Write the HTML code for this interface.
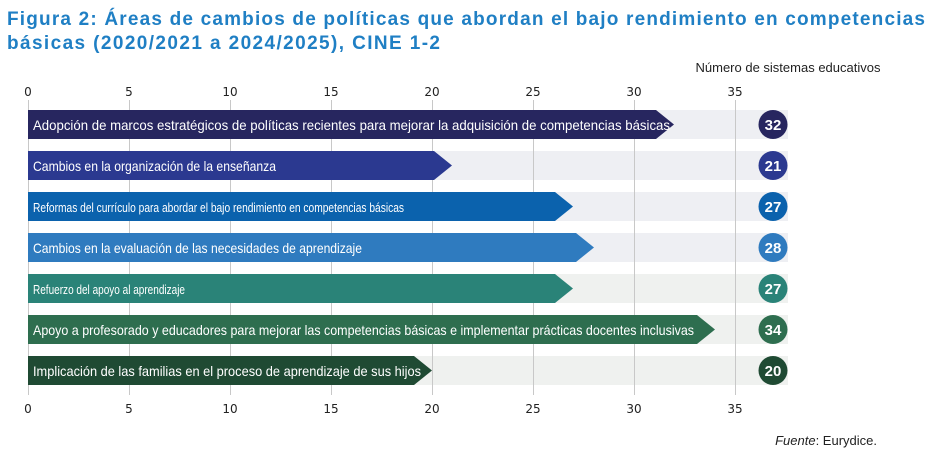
<!DOCTYPE html>
<html><head><meta charset="utf-8"><style>
body{margin:0;background:#fff;width:941px;height:460px;overflow:hidden;font-family:"Liberation Sans",sans-serif}
</style></head><body>
<svg width="941" height="460" style="position:absolute;left:0;top:0" font-family="Liberation Sans Narrow, Liberation Sans, sans-serif">
<g fill="#1f7fc4" font-weight="bold" font-size="19" font-family="Liberation Sans, sans-serif">
<text x="7" y="25" textLength="918" lengthAdjust="spacing">Figura 2: Áreas de cambios de políticas que abordan el bajo rendimiento en competencias</text>
<text x="7" y="49" textLength="433" lengthAdjust="spacing">básicas (2020/2021 a 2024/2025), CINE 1-2</text>
</g>
<g fill="#eeeff3">
<rect x="28" y="110" width="760" height="29"/><rect x="28" y="151" width="760" height="29"/><rect x="28" y="192" width="760" height="29"/><rect x="28" y="233" width="760" height="29"/>
</g>
<g fill="#eff1ef">
<rect x="28" y="274" width="760" height="29"/><rect x="28" y="315" width="760" height="29"/><rect x="28" y="356" width="760" height="29"/>
</g>
<g stroke="#c8c8c8" stroke-width="1">
<line x1="28.5" y1="100" x2="28.5" y2="395"/><line x1="129.5" y1="100" x2="129.5" y2="395"/><line x1="230.5" y1="100" x2="230.5" y2="395"/><line x1="331.5" y1="100" x2="331.5" y2="395"/><line x1="432.5" y1="100" x2="432.5" y2="395"/><line x1="533.5" y1="100" x2="533.5" y2="395"/><line x1="634.5" y1="100" x2="634.5" y2="395"/><line x1="735.5" y1="100" x2="735.5" y2="395"/>
</g>
<g font-size="12" fill="#222" text-anchor="middle" font-family="DejaVu Sans, sans-serif">
<text x="28" y="96">0</text><text x="129" y="96">5</text><text x="230" y="96">10</text><text x="331" y="96">15</text><text x="432" y="96">20</text><text x="533" y="96">25</text><text x="634" y="96">30</text><text x="735" y="96">35</text>
<text x="28" y="413">0</text><text x="129" y="413">5</text><text x="230" y="413">10</text><text x="331" y="413">15</text><text x="432" y="413">20</text><text x="533" y="413">25</text><text x="634" y="413">30</text><text x="735" y="413">35</text>
</g>
<text x="788" y="72" font-size="13" fill="#222" text-anchor="middle">Número de sistemas educativos</text>
<g>
<polygon points="28,110 656,110 674,124.5 656,139 28,139" fill="#27265f"/>
<polygon points="28,151 434,151 452,165.5 434,180 28,180" fill="#2b3990"/>
<polygon points="28,192 555,192 573,206.5 555,221 28,221" fill="#0b62ad"/>
<polygon points="28,233 576,233 594,247.5 576,262 28,262" fill="#2f7bbf"/>
<polygon points="28,274 555,274 573,288.5 555,303 28,303" fill="#2a8378"/>
<polygon points="28,315 697,315 715,329.5 697,344 28,344" fill="#2e6e4f"/>
<polygon points="28,356 414,356 432,370.5 414,385 28,385" fill="#1f4a33"/>
</g>
<g fill="#fff" font-size="14">
<text x="33" y="130" textLength="637" lengthAdjust="spacingAndGlyphs">Adopción de marcos estratégicos de políticas recientes para mejorar la adquisición de competencias básicas</text>
<text x="33" y="171" textLength="243" lengthAdjust="spacingAndGlyphs">Cambios en la organización de la enseñanza</text>
<text x="33" y="212" font-size="12.5" textLength="371" lengthAdjust="spacingAndGlyphs">Reformas del currículo para abordar el bajo rendimiento en competencias básicas</text>
<text x="33" y="253" textLength="329" lengthAdjust="spacingAndGlyphs">Cambios en la evaluación de las necesidades de aprendizaje</text>
<text x="33" y="294" font-size="12.5" textLength="152" lengthAdjust="spacingAndGlyphs">Refuerzo del apoyo al aprendizaje</text>
<text x="33" y="335" textLength="661" lengthAdjust="spacingAndGlyphs">Apoyo a profesorado y educadores para mejorar las competencias básicas e implementar prácticas docentes inclusivas</text>
<text x="33" y="376" textLength="388" lengthAdjust="spacingAndGlyphs">Implicación de las familias en el proceso de aprendizaje de sus hijos</text>
</g>
<g>
<circle cx="773" cy="124.5" r="14.5" fill="#27265f"/><circle cx="773" cy="165.5" r="14.5" fill="#2b3990"/><circle cx="773" cy="206.5" r="14.5" fill="#0b62ad"/><circle cx="773" cy="247.5" r="14.5" fill="#2f7bbf"/><circle cx="773" cy="288.5" r="14.5" fill="#2a8378"/><circle cx="773" cy="329.5" r="14.5" fill="#2e6e4f"/><circle cx="773" cy="370.5" r="14.5" fill="#1f4a33"/>
</g>
<g fill="#fff" font-size="15" font-weight="bold" text-anchor="middle" font-family="Liberation Sans, sans-serif">
<text x="773" y="130">32</text><text x="773" y="171">21</text><text x="773" y="212">27</text><text x="773" y="253">28</text><text x="773" y="294">27</text><text x="773" y="335">34</text><text x="773" y="376">20</text>
</g>
<text x="877" y="445" font-size="13" fill="#222" text-anchor="end"><tspan font-style="italic">Fuente</tspan>: Eurydice.</text>
</svg>
</body></html>
